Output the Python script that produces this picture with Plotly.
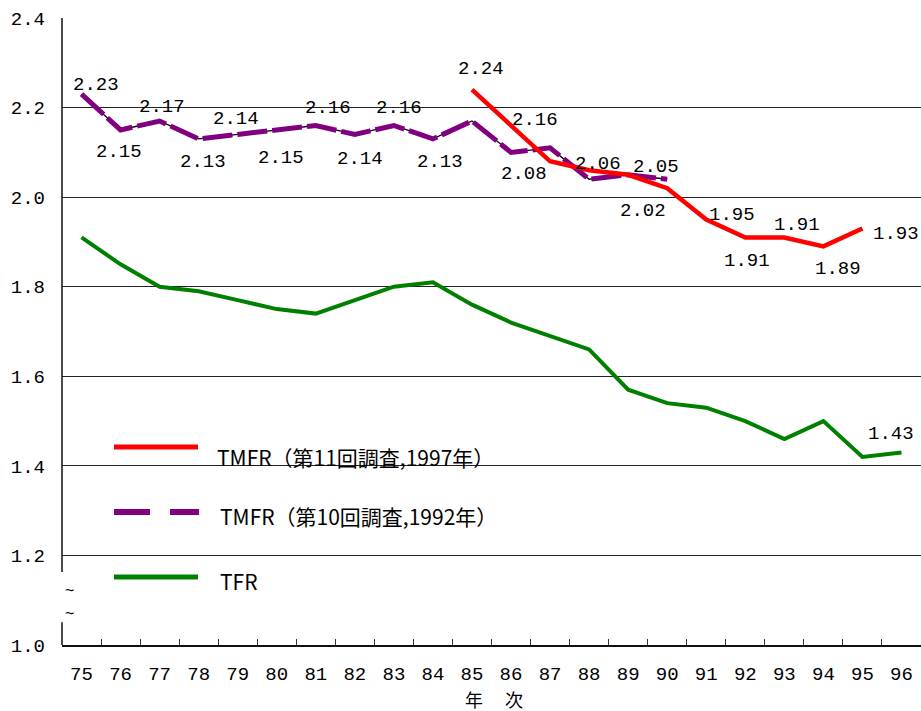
import plotly.graph_objects as go

# ---------------- data ----------------
years = ["75", "76", "77", "78", "79", "80", "81", "82", "83", "84", "85",
         "86", "87", "88", "89", "90", "91", "92", "93", "94", "95", "96"]

tfr = [1.91, 1.85, 1.80, 1.79, 1.77, 1.75, 1.74, 1.77, 1.80, 1.81, 1.76,
       1.72, 1.69, 1.66, 1.57, 1.54, 1.53, 1.50, 1.46, 1.50, 1.42, 1.43]

years_10 = ["75", "76", "77", "78", "79", "80", "81", "82", "83", "84", "85",
            "86", "87", "88", "89", "90"]
tmfr10 = [2.23, 2.15, 2.17, 2.13, 2.14, 2.15, 2.16, 2.14, 2.16, 2.13, 2.17,
          2.10, 2.11, 2.04, 2.05, 2.04]

years_11 = ["85", "86", "87", "88", "89", "90", "91", "92", "93", "94", "95"]
tmfr11 = [2.24, 2.16, 2.08, 2.06, 2.05, 2.02, 1.95, 1.91, 1.91, 1.89, 1.93]

y_ticks = [1.0, 1.2, 1.4, 1.6, 1.8, 2.0, 2.2, 2.4]

name11 = "TMFR（第11回調査,1997年）"
name10 = "TMFR（第10回調査,1992年）"
name_tfr = "TFR"
x_title = "年　 次"

# label offsets in pixels (dx, dy with dy downward) -- styling only
off10 = [(14, -9), (-2, 22), (2, -14), (4, 23), (-2, -15), (4, 28),
         (12, -17), (5, 25), (5, -17), (7, 23)]
off11 = [(9, -21), (24, -5), (-26, 13), (9, -6), (28, -8), (-24, 23),
         (26, -5), (2, 24), (13, -12), (15, 23), (34, 6)]
off_tfr_last = (-10, -18)

# ---------------- layout geometry ----------------
W, H = 921, 711
ML, MR, MT, MB = 62, 0, 18, 66
PW = W - ML - MR
PH = H - MT - MB


def px(xp):
    return (xp - ML) / PW


def py(yp):
    return (H - MB - yp) / PH


NUM_FONT = "Liberation Mono"
CJK_FONT = "Noto Sans CJK JP"
TXT = "#000"

RED = "#ff0000"
PURPLE = "#800080"
GREEN = "#008000"

fig = go.Figure()

# TFR
fig.add_trace(go.Scatter(x=years, y=tfr, mode="lines", name=name_tfr,
                         line=dict(color=GREEN, width=4), showlegend=False))
# TMFR 10th: thin black base line + purple dashes
fig.add_trace(go.Scatter(x=years_10, y=tmfr10, mode="lines", name=name10,
                         line=dict(color="black", width=1.3), showlegend=False,
                         hoverinfo="skip"))
fig.add_trace(go.Scatter(x=years_10, y=tmfr10, mode="lines", name=name10,
                         line=dict(color=PURPLE, width=5, dash="30px,5px"),
                         showlegend=False))
# TMFR 11th
fig.add_trace(go.Scatter(x=years_11, y=tmfr11, mode="lines", name=name11,
                         line=dict(color=RED, width=4.5), showlegend=False))

annotations = []


def label(cat, yv, dx, dy):
    annotations.append(dict(x=years.index(cat), y=yv, xref="x", yref="y",
                            text=f"{yv:.2f}",
                            showarrow=False, xshift=dx, yshift=-dy,
                            font=dict(family=NUM_FONT, size=19, color=TXT)))


for i, (dx, dy) in enumerate(off10):
    label(years_10[i], tmfr10[i], dx, dy)
for i, (dx, dy) in enumerate(off11):
    label(years_11[i], tmfr11[i], dx, dy)
label(years[-1], tfr[-1], *off_tfr_last)

# axis break tildes
for yp in (601, 624):
    annotations.append(dict(x=px(63), y=py(yp), xref="paper", yref="paper",
                            text="~", showarrow=False,
                            font=dict(family="Liberation Sans", size=16, color=TXT)))

# x-axis title
annotations.append(dict(x=px(494), y=py(699), xref="paper", yref="paper", text=x_title,
                        showarrow=False, yanchor="middle", borderpad=0,
                        font=dict(family=CJK_FONT, size=18, color=TXT)))

# custom legend text
for txt, xl, yc in ((name11, 215, 457), (name10, 218, 516), (name_tfr, 218, 581)):
    annotations.append(dict(x=px(xl), y=py(yc), xref="paper", yref="paper", text=txt,
                            showarrow=False, xanchor="left", yanchor="middle",
                            font=dict(family=CJK_FONT, size=21, color=TXT)))

shapes = []
# white masks over gridlines behind legend
shapes.append(dict(type="rect", xref="paper", yref="paper", layer="between",
                   x0=px(92), x1=px(505), y0=py(490), y1=py(430),
                   fillcolor="white", line=dict(width=0)))
shapes.append(dict(type="rect", xref="paper", yref="paper", layer="between",
                   x0=px(92), x1=px(318), y0=py(600), y1=py(540),
                   fillcolor="white", line=dict(width=0)))
# legend samples
shapes.append(dict(type="line", xref="paper", yref="paper",
                   x0=px(114), x1=px(198), y0=py(447), y1=py(447),
                   line=dict(color=RED, width=5)))
shapes.append(dict(type="line", xref="paper", yref="paper",
                   x0=px(114), x1=px(199), y0=py(512), y1=py(512),
                   line=dict(color=PURPLE, width=6, dash="36px,20px")))
shapes.append(dict(type="line", xref="paper", yref="paper",
                   x0=px(114), x1=px(198), y0=py(577), y1=py(577),
                   line=dict(color=GREEN, width=5)))
# broken y-axis line
shapes.append(dict(type="line", xref="paper", yref="y", x0=0, x1=0,
                   y0=1.0, y1=1.051, line=dict(color="#111", width=1.5)))
shapes.append(dict(type="line", xref="paper", yref="y", x0=0, x1=0,
                   y0=1.163, y1=2.4, line=dict(color="#111", width=1.5)))

fig.update_layout(
    width=W, height=H,
    margin=dict(l=ML, r=MR, t=MT, b=MB, pad=0, autoexpand=False),
    paper_bgcolor="white", plot_bgcolor="white",
    showlegend=False,
    annotations=annotations,
    shapes=shapes,
    xaxis=dict(type="category", categoryorder="array", categoryarray=years,
               range=[-0.5, len(years) - 0.5], automargin=False,
               tickson="boundaries", ticks="inside", ticklen=6, tickcolor="#333",
               tickwidth=1, showgrid=False, showline=True, linecolor="#111",
               linewidth=1.5, ticklabelstandoff=10,
               tickfont=dict(family=NUM_FONT, size=19, color=TXT),
               fixedrange=True),
    yaxis=dict(range=[1.0, 2.4], tickvals=y_ticks, automargin=False,
               ticktext=[f"{v:.1f}" for v in y_ticks],
               showgrid=True, gridcolor="#222", gridwidth=1,
               showline=False, zeroline=False, ticks="",
               ticklabelstandoff=16,
               tickfont=dict(family=NUM_FONT, size=19, color=TXT),
               fixedrange=True),
)

fig.write_html("out.html", config={"displayModeBar": False},
               post_script="document.body.style.margin='0';document.body.style.padding='0';")
